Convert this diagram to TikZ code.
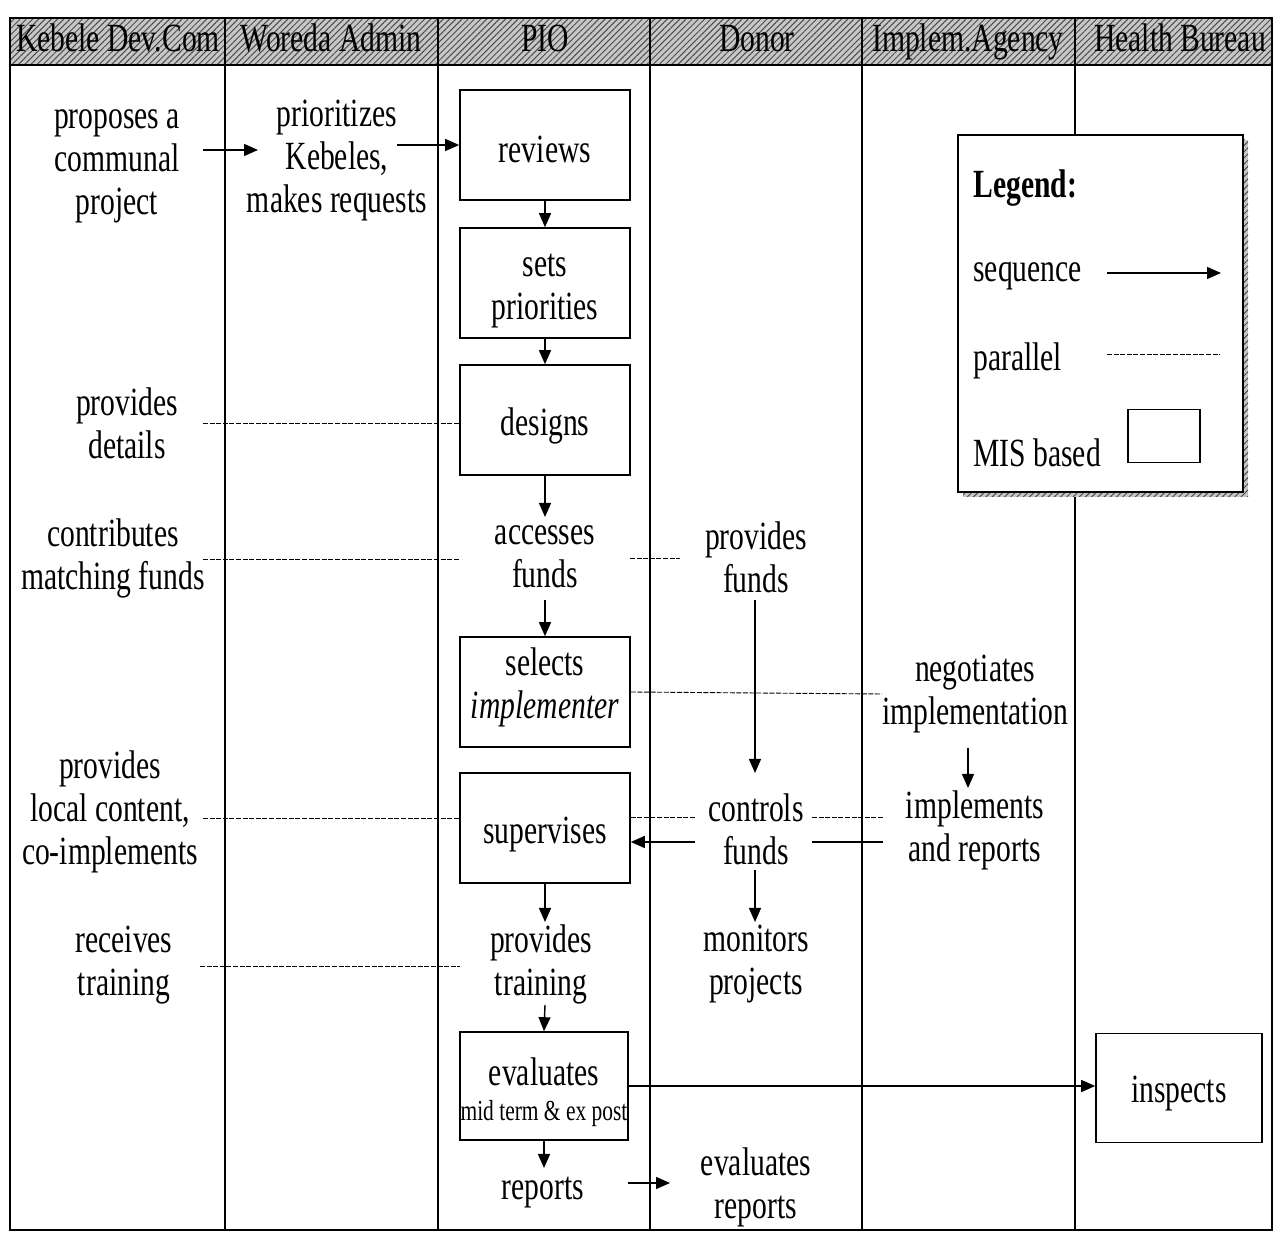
\documentclass[tikz,border=0pt]{standalone}
\usepackage{fontspec}
\setmainfont{Liberation Serif}[FakeStretch=0.74]
\usetikzlibrary{arrows.meta,patterns.meta,calc}
\begin{document}
\begin{tikzpicture}[x=0.5pt,y=-0.5pt,
  every node/.style={font=\fontsize{20}{21.5}\selectfont, inner sep=0pt},
  txt/.style={align=center},
  lanetitle/.style={anchor=base},
  misbox/.style={draw, line width=0.8pt, minimum width=85pt, minimum height=55pt},
  boxtext/.style 2 args={misbox, label={[txt, yshift=#1]center:{#2}}},
  seq/.style={-{Triangle[length=7pt,width=6pt]}, line width=0.7pt},
  par/.style={line width=0.45pt, dash pattern=on 2.5pt off 0.8pt},
  plain/.style={line width=0.7pt},
  lane/.style={line width=0.6pt},
  hatch/.style={pattern={Lines[angle=45,distance=2.2pt,line width=0.5pt]}, pattern color=black!70}
]
\useasboundingbox (0,0) rectangle (1282,1234);

% swimlane header band and frame
\fill[black!22] (10,18) rectangle (1272,65);
\fill[hatch] (10,18) rectangle (1272,65);
\draw[lane] (10,18) rectangle (1272,1230);
\draw[lane] (10,65) -- (1272,65);
\foreach \x in {225,438,650,862,1075} \draw[lane] (\x,18) -- (\x,1230);

% lane titles
\node[lanetitle] (h1) at (118,52) {Kebele Dev.Com};
\node[lanetitle] (h2) at (331,52) {Woreda Admin};
\node[lanetitle] (h3) at (545,52) {PIO};
\node[lanetitle] (h4) at (757,52) {Donor};
\node[lanetitle] (h5) at (968,52) {Implem.Agency};
\node[lanetitle] (h6) at (1180,52) {Health Bureau};

% Kebele Dev.Com lane
\node[txt] (prop) at (117,166) {proposes a\\communal\\project};
\node[txt] (det)  at (127,423) {provides\\details};
\node[txt] (con)  at (113,558) {contributes\\matching funds};
\node[txt] (loc)  at (110,812) {provides\\local content,\\co-implements};
\node[txt] (rcv)  at (124,965) {receives\\training};

% Woreda Admin lane
\node[txt] (prio) at (337,161) {prioritizes\\Kebeles,\\makes requests};

% PIO lane
\node[boxtext={-2pt}{reviews}] (rev)  at (545,145) {};
\node[boxtext={-4pt}{sets\\priorities}] (sets) at (545,283) {};
\node[boxtext={-3pt}{designs}] (des)  at (545,420) {};
\node[txt] (acc)  at (545,557) {accesses\\funds};
\node[boxtext={2.5pt}{selects\\\textit{implementer}}] (sel)  at (545,692) {};
\node[boxtext={-3.5pt}{supervises}] (sup)  at (545,828) {};
\node[txt] (ptr)  at (541,964) {provides\\training};
\node[boxtext={-3pt}{evaluates\\[-4pt]{\fontsize{14.5}{16}\selectfont mid term \& ex post}},
      minimum width=84pt, minimum height=54pt] (evl) at (544,1086) {};
\node[txt] (rep)  at (543,1193) {reports};

% Donor lane
\node[txt] (pfu) at (756,557) {provides\\funds};
\node[txt] (cfu) at (756,829) {controls\\funds};
\node[txt] (mon) at (756,964) {monitors\\projects};
\node[txt] (erp) at (756,1187) {evaluates\\reports};

% Implementing agency lane
\node[txt] (neg) at (975,694) {negotiates\\implementation};
\node[txt] (imp) at (975,830) {implements\\and reports};

% Health Bureau lane
\node[boxtext={-3pt}{inspects}, minimum width=83pt, minimum height=54.5pt] (ins) at (1179,1088) {};

% sequence arrows
\draw[seq] ($(prop)+(86,-16)$) -- ($(prio)+(-79,-11)$);
\draw[seq] ($(prio)+(60,-16)$) -- (rev.west);
\draw[seq] (rev.south) -- (sets.north);
\draw[seq] (sets.south) -- (des.north);
\draw[seq] (des.south) -- ($(acc)+(0,-40)$);
\draw[seq] ($(acc)+(0,43)$) -- (sel.north);
\draw[seq] ($(pfu)+(-1,43)$) -- ($(cfu)+(-1,-56)$);
\draw[seq] ($(neg)+(-7,54)$) -- ($(imp)+(-7,-42)$);
\draw[seq] ($(cfu)+(-61,13)$) -- ($(sup.east)+(0,14)$);
\draw[seq] (sup.south) -- ($(ptr)+(4,-42)$);
\draw[seq] ($(cfu)+(-1,41)$) -- ($(mon)+(-1,-42)$);
\draw[seq] ($(ptr)+(4,41)$) -- (evl.north);
\draw[seq] (evl.east) -- (evl.east -| ins.west);
\draw[seq] (evl.south) -- ($(rep)+(1,-25)$);
\draw[seq] ($(rep)+(85,-10)$) -- ($(erp)+(-86,-4)$);
\draw[plain] ($(imp)+(-92,12)$) -- ($(cfu)+(56,13)$);

% parallel links
\draw[par] ($(det)+(76,0)$) -- (det -| des.west);
\draw[par] ($(con)+(90,1)$) -- ($(acc)+(-85,2)$);
\draw[par] ($(acc)+(85,1)$) -- ($(pfu)+(-76,1)$);
\draw[par] (sel.east) -- ($(neg)+(-93,0)$);
\draw[par] ($(loc)+(93,6)$) -- ($(sup.west)+(0,-10)$);
\draw[par] ($(cfu)+(-61,-12)$) -- ($(sup.east)+(0,-11)$);
\draw[par] ($(imp)+(-92,-13)$) -- ($(cfu)+(56,-12)$);
\draw[par] ($(rcv)+(76,1)$) -- ($(ptr)+(-81,2)$);

% legend with hatched drop shadow
\fill[black!22] (963,140) rectangle (1248,497);
\fill[hatch] (963,140) rectangle (1248,497);
\node[draw, fill=white, line width=0.7pt, minimum width=142.5pt, minimum height=178.5pt] (leg) at (1100.5,313.5) {};
\node[anchor=west, font=\fontsize{20}{21.5}\selectfont\bfseries] (lt) at (973,188) {Legend:};
\node[anchor=west] (ls) at (973,276) {sequence};
\node[anchor=west] (lp) at (973,361) {parallel};
\node[anchor=west] (lm) at (973,453) {MIS based};
\coordinate (s1) at (1107,273);
\coordinate (s2) at (1221,273);
\coordinate (p1) at (1107,354);
\coordinate (p2) at (1220,354);
\draw[seq] (s1) -- (s2);
\draw[par] (p1) -- (p2);
\node[draw, line width=0.7pt, minimum width=36pt, minimum height=26.5pt] (lbox) at (1164,436) {};
\end{tikzpicture}
\end{document}
